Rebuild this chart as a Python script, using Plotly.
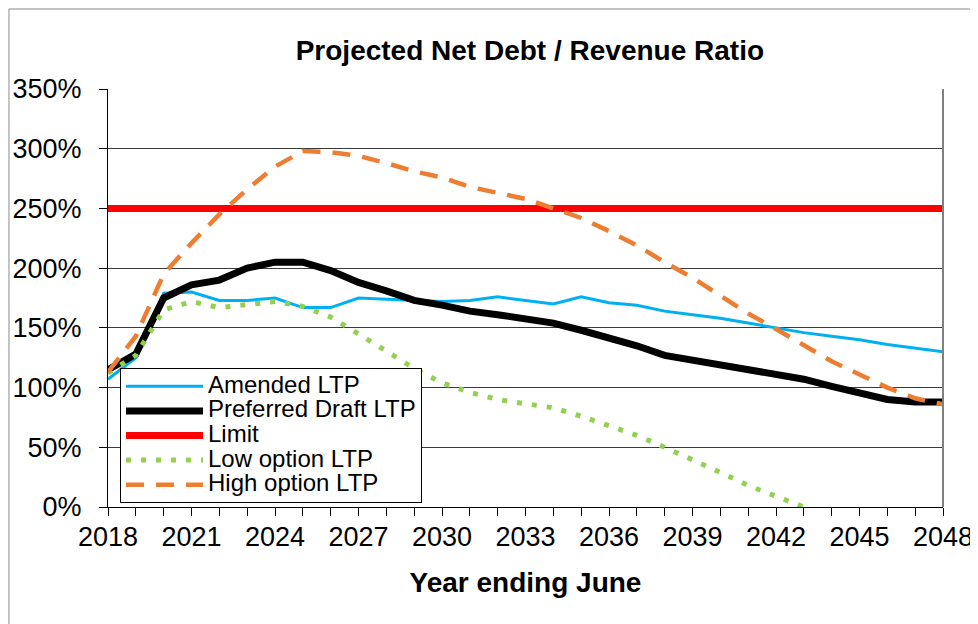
import plotly.graph_objects as go

# ============================================================
# Data (% of revenue)
# ============================================================
years = list(range(2018, 2049))

amended_ltp = [107, 125, 179, 180, 173, 173, 175, 167, 167, 175,
               174, 173, 172, 173, 176, 173, 170, 176, 171, 169,
               164, 161, 158, 154, 150, 146, 143, 140, 136, 133, 130]

preferred_draft_ltp = [115, 128, 175, 186, 190, 200, 205, 205, 198, 188,
                       181, 173, 169, 164, 161, 158, 154, 148, 142, 135,
                       127, 123, 120, 115, 111, 107, 101, 95, 90, 88, 88]

limit = [250] * len(years)

low_option_ltp = [112, 127, 165, 172, 167, 170, 172, 168, 159, 145,
                  130, 116, 104, 96, 90, 87, 83, 76, 68, 60,
                  50, 40, 29, 18, 9, 0, None, None, None, None, None]

high_option_ltp = [113, 143, 195, 221, 245, 266, 285, 298, 297, 294,
                   288, 281, 276, 268, 263, 258, 250, 242, 231, 219,
                   205, 192, 177, 162, 149, 136, 122, 111, 100, 91, 86]

x_ticks = list(range(2018, 2049, 3))
y_ticks = list(range(0, 351, 50))
y_tick_labels = [f"{v}%" for v in y_ticks]

FONT = "Liberation Sans, Arial, sans-serif"


def legend_name(text):
    # bigger text than the legend's row height would normally allow
    return f"<span style='font-size:24px'>{text}</span>"


# ============================================================
# Figure
# ============================================================
fig = go.Figure()

fig.add_trace(go.Scatter(x=years, y=amended_ltp, name=legend_name("Amended LTP"), mode="lines",
                         line=dict(color="#00B0F0", width=3)))
fig.add_trace(go.Scatter(x=years, y=preferred_draft_ltp, name=legend_name("Preferred Draft LTP"),
                         mode="lines", line=dict(color="#000000", width=7)))
fig.add_trace(go.Scatter(x=years, y=limit, name=legend_name("Limit"), mode="lines",
                         line=dict(color="#FF0000", width=7)))
fig.add_trace(go.Scatter(x=years, y=low_option_ltp, name=legend_name("Low option LTP"), mode="lines",
                         line=dict(color="#92D050", width=5, dash="5px,10px")))
fig.add_trace(go.Scatter(x=years, y=high_option_ltp, name=legend_name("High option LTP"), mode="lines",
                         line=dict(color="#ED7D31", width=4.5, dash="18px,12px")))

# page body adds an 8px margin, so the figure is 8px smaller than the window
fig.update_layout(
    width=970, height=616,
    margin=dict(l=100, r=35, t=81, b=117),
    paper_bgcolor="white", plot_bgcolor="white",
    font=dict(family=FONT, size=27, color="#000000"),
    title=dict(text="<b>Projected Net Debt / Revenue Ratio</b>",
               x=0.538, xanchor="center", y=1 - 42 / 616, yanchor="middle",
               font=dict(size=28)),
    legend=dict(x=0.0144, y=0.3325, xanchor="left", yanchor="top",
                bgcolor="white", bordercolor="#000000", borderwidth=1,
                font=dict(size=16.6), itemwidth=77, tracegroupgap=0),
    showlegend=True,
)

fig.update_xaxes(
    range=[2018, 2048], tickvals=x_ticks, ticks="outside", ticklen=8,
    tickcolor="#000000", showline=True, linecolor="#000000", linewidth=1,
    showgrid=False, zeroline=False, ticklabelstandoff=-2, automargin=False,
    minor=dict(dtick=1, tick0=2018, ticks="outside", ticklen=8, tickcolor="#000000", showgrid=False),
    title=dict(text="<b>Year ending June</b>", standoff=20, font=dict(size=28)),
)
fig.update_yaxes(
    range=[0, 350], tickvals=y_ticks, ticktext=y_tick_labels, ticks="outside", ticklen=8,
    tickcolor="#000000", showline=True, linecolor="#000000", linewidth=1,
    showgrid=True, gridcolor="#3a3a3a", gridwidth=1, zeroline=False,
    ticklabelstandoff=12, automargin=False,
)

# right border of plot area and outer frame of the picture
fig.add_shape(type="line", xref="paper", yref="paper", x0=1, x1=1, y0=0, y1=1,
              line=dict(color="#808080", width=2))
fig.add_shape(type="rect", xref="paper", yref="paper",
              x0=-0.1186, x1=1.1, y0=-0.4, y1=1.1914,
              line=dict(color="#8a8a8a", width=1), layer="below")

fig.write_html("out.html")
